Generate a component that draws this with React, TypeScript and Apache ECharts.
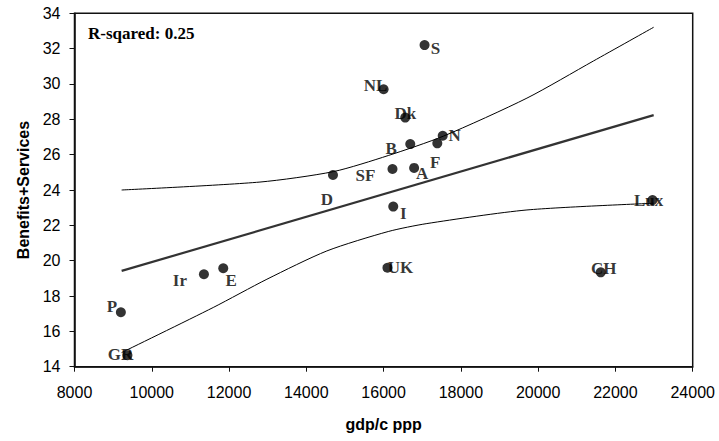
import React, { useEffect, useRef } from "react";
import * as echarts from "echarts";

const countries = ["S", "NL", "Dk", "B", "N", "F", "SF", "A", "I", "Lux", "D", "UK", "CH", "Ir", "E", "P", "GR"];
const gdp = [17060, 16000, 16560, 16690, 17530, 17390, 16230, 16790, 16250, 22960, 14690, 16100, 21620, 11350, 11850, 9200, 9370];
const benefits = [32.2, 29.7, 28.1, 26.6, 27.07, 26.64, 25.19, 25.25, 23.06, 23.43, 24.85, 19.6, 19.34, 19.23, 19.57, 17.08, 14.65];

const regX = [9220, 22990];
const regY = [19.42, 28.24];

const upperX = [9220, 12800, 14700, 16120, 17550, 19710, 21430, 22990];
const upperY = [24.0, 24.45, 25.04, 25.95, 27.05, 29.2, 31.3, 33.21];

const lowerX = [9220, 11590, 12980, 14530, 16120, 17120, 19710, 22990];
const lowerY = [14.8, 17.35, 18.95, 20.55, 21.65, 22.1, 22.87, 23.25];

const xTicks = { min: 8000, max: 24000, interval: 2000 };
const yTicks = { min: 14, max: 34, interval: 2 };

const rSquaredText = "R-sqared: 0.25";
const xName = "gdp/c ppp";
const yName = "Benefits+Services";

// label offsets (pixels) relative to each point's centre
const labelOffsets: number[][] = [
  [11, 3], [-8, -4], [0, -4], [-19, 4], [12, 0], [-2, 19], [-27, 7], [8, 6], [10, 7],
  [-4, 0], [-6, 25], [13, 0], [3, -4], [-24, 6], [8, 12], [-9, -6], [-7, -1],
];

const SANS = "'Liberation Sans', Arial, sans-serif";
const SERIF = "'Liberation Serif', 'Times New Roman', serif";

export default function App() {
  const ref = useRef<HTMLDivElement>(null);

  useEffect(() => {
    document.body.style.margin = "0";
    if (!ref.current) return;
    const chart = echarts.init(ref.current, undefined, { renderer: "svg" });

    const pts = gdp.map((g, i) => [g, benefits[i]]);
    const labelData = pts.map((p, i) => ({
      value: p,
      name: countries[i],
      label: { offset: labelOffsets[i] },
    }));

    const axisCommon = {
      axisLine: { show: true, onZero: false, lineStyle: { color: "#111", width: 1.5 } },
      axisTick: { show: true, inside: false, length: 5, lineStyle: { color: "#111", width: 1 } },
      splitLine: { show: false },
      nameTextStyle: { fontFamily: SANS, fontWeight: "bold" as const, fontSize: 16, color: "#000" },
    };

    chart.setOption({
      animation: false,
      backgroundColor: "#fff",
      grid: {
        left: 74.5,
        right: 26.3,
        top: 13.3,
        bottom: 74.3,
        show: true,
        borderColor: "#111",
        borderWidth: 1.5,
        backgroundColor: "transparent",
      },
      xAxis: {
        type: "value",
        ...xTicks,
        ...axisCommon,
        name: xName,
        nameLocation: "middle",
        nameGap: 50,
        axisLabel: {
          fontFamily: SANS, fontSize: 16, color: "#000", margin: 18,
          formatter: (v: number) => String(v),
        },
      },
      yAxis: {
        type: "value",
        ...yTicks,
        ...axisCommon,
        name: yName,
        nameLocation: "middle",
        nameRotate: 90,
        nameGap: 43,
        axisLabel: {
          fontFamily: SANS, fontSize: 16, color: "#000", margin: 14,
          formatter: (v: number) => String(v),
        },
      },
      graphic: [
        {
          type: "text",
          left: 88,
          top: 25,
          style: {
            text: rSquaredText,
            font: `bold 17px ${SERIF}`,
            fill: "#000",
          },
        },
      ],
      series: [
        {
          type: "line",
          z: 1,
          data: regX.map((x, i) => [x, regY[i]]),
          symbol: "none",
          lineStyle: { color: "#333", width: 2.2 },
          silent: true,
        },
        {
          type: "line",
          z: 1,
          data: upperX.map((x, i) => [x, upperY[i]]),
          symbol: "none",
          smooth: 0.25,
          lineStyle: { color: "#000", width: 1 },
          silent: true,
        },
        {
          type: "line",
          z: 1,
          data: lowerX.map((x, i) => [x, lowerY[i]]),
          symbol: "none",
          smooth: 0.25,
          lineStyle: { color: "#000", width: 1 },
          silent: true,
        },
        {
          type: "scatter",
          z: 2,
          data: labelData,
          symbolSize: 1,
          itemStyle: { color: "rgba(0,0,0,0)" },
          label: {
            show: true,
            position: "inside",
            formatter: "{b}",
            fontFamily: SERIF,
            fontWeight: "bold",
            fontSize: 17,
            color: "#000",
            textBorderWidth: 0,
            textBorderColor: "transparent",
            align: "center",
            verticalAlign: "middle",
          },
          silent: true,
        },
        {
          type: "scatter",
          z: 3,
          data: pts,
          symbol: "circle",
          symbolSize: 10,
          itemStyle: { color: "#000" },
        },
      ],
    });

    return () => chart.dispose();
  }, []);

  return <div ref={ref} style={{ width: 719, height: 441 }} />;
}
